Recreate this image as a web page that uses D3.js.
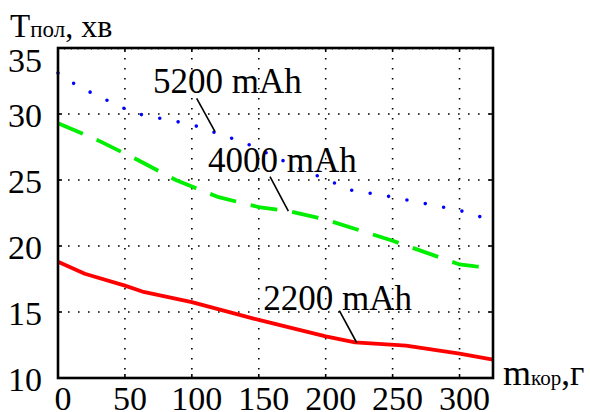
<!DOCTYPE html>
<html><head><meta charset="utf-8">
<script src="https://cdn.jsdelivr.net/npm/d3@7"></script>
<style>body{margin:0;background:#fff}svg{display:block}text{font-family:"Liberation Serif","Times New Roman",serif;fill:#000}</style>
</head><body>
<script>
const xTicks = [0, 50, 100, 150, 200, 250, 300];
const yTicks = [10, 15, 20, 25, 30, 35];
const series5200X = [0, 12, 25, 50, 60, 100, 140, 180, 220, 240, 300, 316, 325];
const series5200Y = [33.1, 32.3, 31.6, 30.4, 30.0, 29.2, 27.8, 25.9, 24.2, 23.9, 22.7, 22.2, 21.9];
const series4000X = [0, 30, 60, 88, 100, 120, 150, 172, 200, 250, 300, 312, 325];
const series4000Y = [29.3, 28.0, 26.5, 25.0, 24.5, 23.7, 22.95, 22.65, 22.0, 20.4, 18.6, 18.45, 18.35];
const series2200X = [0, 20, 50, 63, 100, 150, 200, 222, 260, 300, 325];
const series2200Y = [18.8, 17.9, 17.0, 16.55, 15.75, 14.4, 13.15, 12.7, 12.45, 11.85, 11.4];
const labels = ["5200 mAh", "4000 mAh", "2200 mAh"];

const W = 590, H = 412;
const svg = d3.select("body").append("svg").attr("width", W).attr("height", H);
const x = d3.scaleLinear().domain([0, 325]).range([58, 493]);
const y = d3.scaleLinear().domain([10, 35]).range([378, 48]);

// grid
const g = svg.append("g");
g.selectAll(".vg").data(xTicks.filter(d => d > 0)).enter().append("line")
  .attr("x1", d => x(d)).attr("x2", d => x(d)).attr("y1", y(35)).attr("y2", y(10))
  .attr("stroke", "#000").attr("stroke-width", 1.6).attr("stroke-dasharray", "1.6,8.4");
g.selectAll(".hg").data(yTicks.filter(d => d > 10 && d < 35)).enter().append("line")
  .attr("x1", x(0)).attr("x2", x(325)).attr("y1", d => y(d)).attr("y2", d => y(d))
  .attr("stroke", "#000").attr("stroke-width", 1.6).attr("stroke-dasharray", "1.6,8.4");

// minor ticks on top
svg.append("g").selectAll("line").data(d3.range(5, 325, 5)).enter().append("line")
  .attr("x1", d => x(d)).attr("x2", d => x(d)).attr("y1", y(35)).attr("y2", y(35) + 2)
  .attr("stroke", "#555").attr("stroke-width", 0.8);

// major ticks inward
const tk = svg.append("g").attr("stroke", "#000").attr("stroke-width", 1.6);
xTicks.filter(d => d > 0).forEach(d => {
  tk.append("line").attr("x1", x(d)).attr("x2", x(d)).attr("y1", y(35)).attr("y2", y(35) + 4);
  tk.append("line").attr("x1", x(d)).attr("x2", x(d)).attr("y1", y(10)).attr("y2", y(10) - 4);
});
yTicks.filter(d => d > 10 && d < 35).forEach(d => {
  tk.append("line").attr("x1", x(325)).attr("x2", x(325) - 4).attr("y1", y(d)).attr("y2", y(d));
  tk.append("line").attr("x1", x(0)).attr("x2", x(0) + 4).attr("y1", y(d)).attr("y2", y(d));
});

// data lines
const line = d3.line().x(d => x(d[0])).y(d => y(d[1]));
const zip = (a, b) => a.map((v, i) => [v, b[i]]);
svg.append("path").datum(zip(series2200X, series2200Y)).attr("d", line)
  .attr("fill", "none").attr("stroke", "#ff0000").attr("stroke-width", 3.8).attr("stroke-linejoin", "round");
svg.append("path").datum(zip(series4000X, series4000Y)).attr("d", line)
  .attr("fill", "none").attr("stroke", "#00ee00").attr("stroke-width", 3.8).attr("stroke-dasharray", "27,15");
svg.append("path").datum(zip(series5200X, series5200Y)).attr("d", line)
  .attr("fill", "none").attr("stroke", "#0000ff").attr("stroke-width", 3.6)
  .attr("stroke-linecap", "round").attr("stroke-dasharray", "0,18.7");

// frame
svg.append("rect").attr("x", x(0)).attr("y", y(35)).attr("width", x(325) - x(0)).attr("height", y(10) - y(35))
  .attr("fill", "none").attr("stroke", "#000").attr("stroke-width", 2.6);

// tick labels
svg.append("g").selectAll("text").data(yTicks).enter().append("text")
  .attr("x", 42).attr("y", d => y(d) + (d === 35 ? 24 : 13))
  .attr("text-anchor", "end").attr("font-size", 34).text(d => d);
svg.append("g").selectAll("text").data(xTicks).enter().append("text")
  .attr("x", d => x(d) + 5).attr("y", 410)
  .attr("text-anchor", "middle").attr("font-size", 34).text(d => d);

// axis titles
const t1 = svg.append("text").attr("x", 10).attr("y", 37);
t1.append("tspan").attr("font-size", 33).text("T");
t1.append("tspan").attr("font-size", 23).text("пол");
t1.append("tspan").attr("font-size", 32).text(", хв");
const t2 = svg.append("text").attr("x", 503).attr("y", 385);
t2.append("tspan").attr("font-size", 36).text("m");
t2.append("tspan").attr("font-size", 21).text("кор");
t2.append("tspan").attr("font-size", 35).text(",г");

// annotations
const ann = [
  {t: labels[0], tx: 71, ty: 31.57, x1: 103.6, y1: 31.19, x2: 117.3, y2: 28.66},
  {t: labels[1], tx: 112, ty: 25.63, x1: 158.4, y1: 25.25, x2: 172.1, y2: 22.65},
  {t: labels[2], tx: 153.4, ty: 15.15, x1: 210.2, y1: 15.1, x2: 223.2, y2: 12.67}
];
ann.forEach(a => {
  svg.append("text").attr("x", x(a.tx)).attr("y", y(a.ty)).attr("font-size", 35).text(a.t);
  svg.append("line").attr("x1", x(a.x1)).attr("y1", y(a.y1)).attr("x2", x(a.x2)).attr("y2", y(a.y2))
    .attr("stroke", "#000").attr("stroke-width", 1.6);
});
</script>
</body></html>
